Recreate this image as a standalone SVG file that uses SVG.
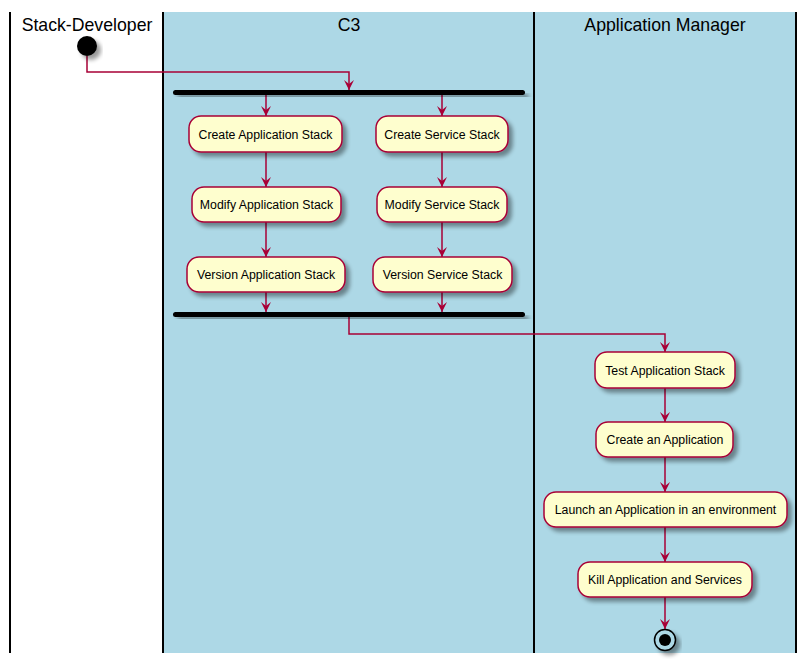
<svg xmlns="http://www.w3.org/2000/svg" width="806" height="663" viewBox="0 0 806 663">
<defs>
<filter id="sh" x="-20%" y="-20%" width="150%" height="160%">
<feGaussianBlur in="SourceAlpha" stdDeviation="2" result="b"/>
<feOffset dx="4" dy="4" in="b" result="o"/>
<feComponentTransfer in="o" result="o2"><feFuncA type="linear" slope="0.4"/></feComponentTransfer>
<feMerge><feMergeNode in="o2"/><feMergeNode in="SourceGraphic"/></feMerge>
</filter>
<marker id="ah" viewBox="0 0 10 12" refX="10" refY="6" markerWidth="10" markerHeight="12" markerUnits="userSpaceOnUse" orient="auto">
<polygon points="0,1 10,6 0,11 4,6" fill="#A80036"/>
</marker>
</defs>
<style>
.lane{stroke:#000;stroke-width:2}
.title{font-family:"Liberation Sans",Arial,sans-serif;font-size:17.7px;fill:#000;text-anchor:middle}
.box{fill:#FEFECE;stroke:#A80036;stroke-width:1.5;filter:url(#sh)}
.lbl{font-family:"Liberation Sans",Arial,sans-serif;font-size:12.3px;fill:#000;text-anchor:middle}
.bar{fill:#000;filter:url(#sh)}
.c{fill:none;stroke:#A80036;stroke-width:1.5;marker-end:url(#ah)}
</style>
<rect x="163" y="12" width="633" height="641" fill="#ADD8E6"/>
<g id="lanes">
<line class="lane" x1="10" y1="12" x2="10" y2="653"/>
<line class="lane" x1="163" y1="12" x2="163" y2="653"/>
<line class="lane" x1="534" y1="12" x2="534" y2="653"/>
<line class="lane" x1="796" y1="12" x2="796" y2="653"/>
<text class="title" x="87" y="31">Stack-Developer</text>
<text class="title" x="349" y="31">C3</text>
<text class="title" x="665" y="31">Application Manager</text>
</g>
<g id="connectors">
<path class="c" d="M87,56 V72 H349 V90"/>
<path class="c" d="M266,95 V116"/>
<path class="c" d="M442,95 V116"/>
<path class="c" d="M266,152 V187"/>
<path class="c" d="M442,152 V187"/>
<path class="c" d="M266,222 V257"/>
<path class="c" d="M442,222 V257"/>
<path class="c" d="M266,292 V312"/>
<path class="c" d="M442,292 V312"/>
<path class="c" d="M349,317 V334 H665 V352"/>
<path class="c" d="M665,388 V422"/>
<path class="c" d="M665,457 V492"/>
<path class="c" d="M665,527 V562"/>
<path class="c" d="M665,597 V629"/>
</g>
<g id="start"><circle cx="87" cy="46" r="10" fill="#000" filter="url(#sh)"/></g>
<g id="fork"><rect class="bar" x="173" y="90" width="352" height="5" rx="2.5"/></g>
<g id="n1"><rect class="box" x="189" y="116" width="153" height="36" rx="12"/><text class="lbl" x="265.5" y="138.5">Create Application Stack</text></g>
<g id="n2"><rect class="box" x="376" y="116" width="132" height="36" rx="12"/><text class="lbl" x="442" y="138.5">Create Service Stack</text></g>
<g id="n3"><rect class="box" x="192" y="187" width="149" height="35" rx="12"/><text class="lbl" x="266.5" y="208.5">Modify Application Stack</text></g>
<g id="n4"><rect class="box" x="377" y="187" width="130" height="35" rx="12"/><text class="lbl" x="442" y="208.5">Modify Service Stack</text></g>
<g id="n5"><rect class="box" x="187" y="257" width="158" height="35" rx="12"/><text class="lbl" x="266" y="278.5">Version Application Stack</text></g>
<g id="n6"><rect class="box" x="373" y="257" width="139" height="35" rx="12"/><text class="lbl" x="442.5" y="278.5">Version Service Stack</text></g>
<g id="join"><rect class="bar" x="173" y="312" width="352" height="5" rx="2.5"/></g>
<g id="n7"><rect class="box" x="595" y="352" width="140" height="36" rx="12"/><text class="lbl" x="665" y="374.5">Test Application Stack</text></g>
<g id="n8"><rect class="box" x="596" y="422" width="137" height="35" rx="12"/><text class="lbl" x="665" y="444">Create an Application</text></g>
<g id="n9"><rect class="box" x="544" y="492" width="243" height="35" rx="12"/><text class="lbl" x="665.5" y="514">Launch an Application in an environment</text></g>
<g id="n10"><rect class="box" x="578" y="562" width="174" height="35" rx="12"/><text class="lbl" x="665" y="584">Kill Application and Services</text></g>
<g id="end"><circle cx="665" cy="640" r="10.5" fill="#ADD8E6" stroke="#000" stroke-width="1.5" filter="url(#sh)"/><circle cx="665" cy="640" r="6" fill="#000"/></g>
</svg>
